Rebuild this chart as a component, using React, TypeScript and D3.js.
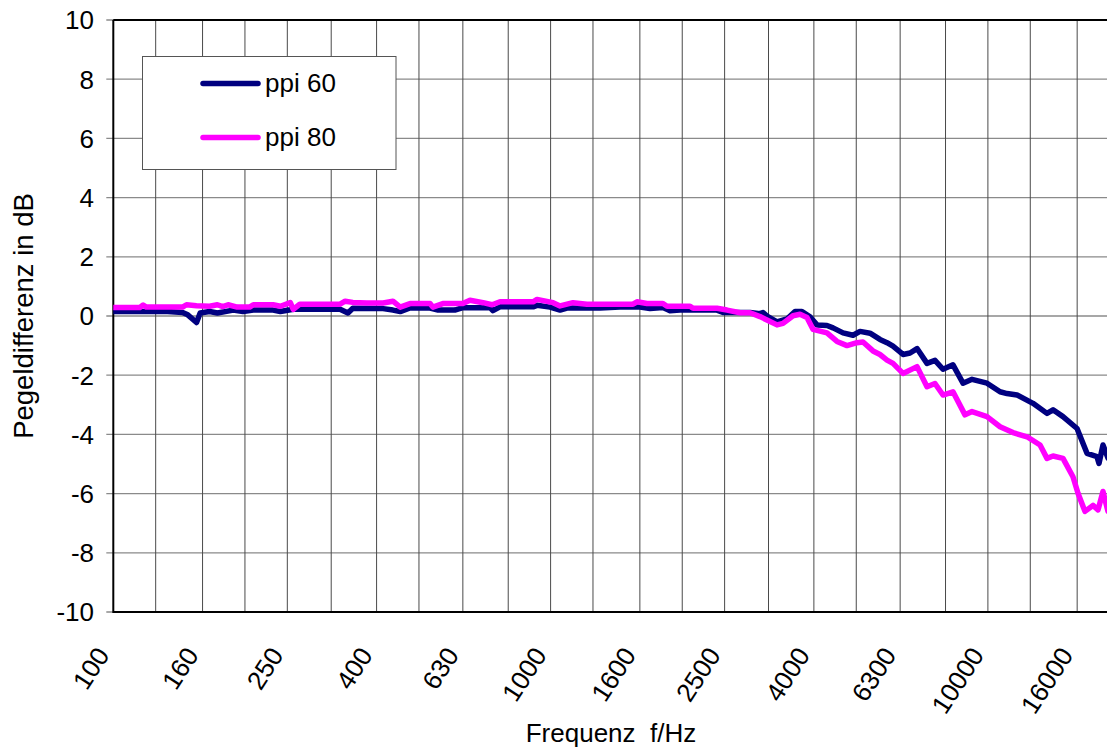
import React, { useEffect, useRef } from "react";
import * as d3 from "d3";

// third-octave gridlines and the labelled bands
const bandFreqs = [125, 160, 200, 250, 315, 400, 500, 630, 800, 1000, 1250, 1600, 2000, 2500, 3150, 4000, 5000, 6300, 8000, 10000, 12500, 16000, 20000];
const labelFreqs = [100, 160, 250, 400, 630, 1000, 1600, 2500, 4000, 6300, 10000, 16000];
const yTicks = [-10, -8, -6, -4, -2, 0, 2, 4, 6, 8, 10];

// ppi 60
const freq60 = [100, 115, 133, 144, 148, 155, 158, 166, 173, 188, 198, 209, 232, 241, 258, 330, 344, 353, 414, 436, 453, 477, 530, 553, 604, 630, 727, 738, 766, 912, 931, 997, 1051, 1090, 1297, 1441, 1601, 1688, 1807, 1875, 1977, 2402, 2479, 2858, 3012, 3060, 3125, 3294, 3472, 3622, 3757, 3919, 4066, 4286, 4424, 4664, 4915, 5100, 5376, 5665, 5879, 6067, 6396, 6637, 6886, 7257, 7568, 7894, 8321, 8772, 9199, 9954, 10660, 11060, 11660, 12680, 13650, 14090, 14850, 15990, 16850, 17760, 17950, 18330, 18820];
const ppi60 = [0.15, 0.15, 0.15, 0.12, 0.04, -0.22, 0.1, 0.15, 0.1, 0.2, 0.15, 0.2, 0.2, 0.15, 0.23, 0.23, 0.1, 0.26, 0.25, 0.2, 0.15, 0.27, 0.27, 0.2, 0.2, 0.28, 0.28, 0.18, 0.31, 0.31, 0.36, 0.3, 0.2, 0.27, 0.27, 0.3, 0.3, 0.25, 0.29, 0.18, 0.2, 0.2, 0.12, 0.12, 0.08, 0.12, 0.0, -0.2, -0.1, 0.15, 0.15, -0.03, -0.3, -0.32, -0.4, -0.57, -0.65, -0.52, -0.58, -0.79, -0.9, -1.02, -1.3, -1.25, -1.1, -1.6, -1.5, -1.8, -1.65, -2.27, -2.14, -2.27, -2.56, -2.62, -2.67, -2.95, -3.29, -3.17, -3.4, -3.8, -4.64, -4.75, -4.98, -4.36, -4.8];

// ppi 80
const freq80 = [100, 115, 117, 119, 144, 147, 155, 166, 173, 178, 183, 192, 205, 209, 232, 241, 254, 258, 267, 330, 339, 353, 380, 414, 436, 453, 477, 530, 538, 567, 630, 654, 701, 735, 766, 912, 931, 1013, 1051, 1125, 1211, 1543, 1576, 1661, 1807, 1846, 2084, 2117, 2402, 2532, 2711, 2858, 3012, 3294, 3400, 3584, 3718, 3857, 3981, 4286, 4518, 4762, 5020, 5181, 5461, 5665, 5879, 6067, 6396, 6886, 7257, 7568, 7894, 8321, 8864, 9199, 9954, 10660, 11410, 12290, 13160, 13650, 14090, 14850, 15650, 16070, 16670, 17390, 17860, 18330, 18820];
const ppi80 = [0.29, 0.29, 0.37, 0.3, 0.3, 0.38, 0.35, 0.33, 0.38, 0.32, 0.38, 0.3, 0.3, 0.38, 0.38, 0.33, 0.45, 0.22, 0.4, 0.4, 0.5, 0.46, 0.44, 0.44, 0.5, 0.3, 0.42, 0.42, 0.3, 0.42, 0.42, 0.53, 0.45, 0.38, 0.48, 0.48, 0.56, 0.45, 0.34, 0.45, 0.4, 0.4, 0.48, 0.42, 0.42, 0.33, 0.33, 0.26, 0.26, 0.2, 0.11, 0.11, -0.02, -0.3, -0.25, 0.01, 0.06, -0.05, -0.45, -0.57, -0.86, -1.0, -0.9, -0.88, -1.18, -1.3, -1.49, -1.6, -1.94, -1.71, -2.39, -2.28, -2.67, -2.56, -3.34, -3.23, -3.4, -3.74, -3.94, -4.08, -4.36, -4.81, -4.73, -4.81, -5.43, -5.99, -6.6, -6.4, -6.55, -5.93, -6.6];

const seriesNames = ["ppi 60", "ppi 80"];
const seriesColors = ["#000080", "#ff00ff"];

const width = 1107;
const height = 749;
const plotLeft = 113.3;
const plotTop = 20;
const plotBottom = 612;
const font = "'Liberation Sans', Arial, sans-serif";

export default function App() {
	const ref = useRef<SVGSVGElement>(null);

	useEffect(() => {
		document.body.style.margin = "0";
		drawChart();
	}, []);

	const drawChart = () => {
		const svg = d3.select(ref.current);
		svg.selectAll("*").remove();

		const x = d3
			.scaleLog()
			.domain([100, 20000])
			.range([plotLeft, plotLeft + 437.3 * Math.log10(200)]);
		const y = d3.scaleLinear().domain([-10, 10]).range([plotBottom, plotTop]);
		const plotRight = x(20000);

		svg.append("rect").attr("width", width).attr("height", height).attr("fill", "#fff");

		// horizontal grid + left ticks
		svg
			.append("g")
			.selectAll("line")
			.data(yTicks)
			.join("line")
			.attr("x1", plotLeft - 7)
			.attr("x2", plotRight)
			.attr("y1", (d) => y(d))
			.attr("y2", (d) => y(d))
			.attr("stroke", "#8a8a8a")
			.attr("stroke-width", 1.3);

		// vertical grid
		svg
			.append("g")
			.selectAll("line")
			.data(bandFreqs)
			.join("line")
			.attr("x1", (d) => x(d))
			.attr("x2", (d) => x(d))
			.attr("y1", plotTop)
			.attr("y2", plotBottom)
			.attr("stroke", "#4a4a4a")
			.attr("stroke-width", 1);

		// frame
		const frame = svg.append("g").attr("stroke", "#000").attr("stroke-width", 2);
		frame.append("line").attr("x1", plotLeft).attr("x2", plotLeft).attr("y1", plotTop).attr("y2", plotBottom + 1);
		frame.append("line").attr("x1", plotLeft).attr("x2", plotRight).attr("y1", plotBottom).attr("y2", plotBottom);
		frame.append("line").attr("x1", plotLeft).attr("x2", plotRight).attr("y1", plotTop).attr("y2", plotTop);

		// y tick labels
		svg
			.append("g")
			.selectAll("text")
			.data(yTicks)
			.join("text")
			.attr("x", 94)
			.attr("y", (d) => y(d))
			.attr("dy", "0.36em")
			.attr("text-anchor", "end")
			.attr("font-family", font)
			.attr("font-size", 26)
			.text((d) => String(d));

		// x tick labels
		svg
			.append("g")
			.selectAll("text")
			.data(labelFreqs)
			.join("text")
			.attr("text-anchor", "end")
			.attr("transform", (d) => `translate(${x(d) - 3},655) rotate(-57)`)
			.attr("font-family", font)
			.attr("font-size", 26)
			.text((d) => String(d));

		// axis titles
		svg
			.append("text")
			.attr("x", 611)
			.attr("y", 742)
			.attr("text-anchor", "middle")
			.attr("font-family", font)
			.attr("font-size", 26)
			.style("white-space", "pre")
			.text("Frequenz  f/Hz");
		svg
			.append("text")
			.attr("transform", `translate(33,${(plotTop + plotBottom) / 2}) rotate(-90)`)
			.attr("text-anchor", "middle")
			.attr("font-family", font)
			.attr("font-size", 27.5)
			.text("Pegeldifferenz in dB");

		// series
		svg
			.append("clipPath")
			.attr("id", "plot-clip")
			.append("rect")
			.attr("x", plotLeft)
			.attr("y", plotTop)
			.attr("width", plotRight - plotLeft)
			.attr("height", plotBottom - plotTop);

		const line = d3
			.line<[number, number]>()
			.x((d) => x(d[0]))
			.y((d) => y(d[1]));

		const series = [
			d3.zip(freq60, ppi60) as [number, number][],
			d3.zip(freq80, ppi80) as [number, number][],
		];

		svg
			.append("g")
			.attr("clip-path", "url(#plot-clip)")
			.selectAll("path")
			.data(series)
			.join("path")
			.attr("d", (d) => line(d))
			.attr("fill", "none")
			.attr("stroke", (d, i) => seriesColors[i])
			.attr("stroke-width", 5.5)
			.attr("stroke-linejoin", "round")
			.attr("stroke-linecap", "round");

		// legend
		const legend = svg.append("g");
		legend
			.append("rect")
			.attr("x", 142.5)
			.attr("y", 56.5)
			.attr("width", 253.5)
			.attr("height", 113)
			.attr("fill", "#fff")
			.attr("stroke", "#555")
			.attr("stroke-width", 1);
		const rows = legend
			.selectAll("g.row")
			.data(seriesNames)
			.join("g")
			.attr("class", "row")
			.attr("transform", (d, i) => `translate(0,${83.5 + i * 54})`);
		rows
			.append("line")
			.attr("x1", 203)
			.attr("x2", 258)
			.attr("stroke", (d, i) => seriesColors[i])
			.attr("stroke-width", 5.5)
			.attr("stroke-linecap", "round");
		rows
			.append("text")
			.attr("x", 265)
			.attr("y", 8.5)
			.attr("font-family", font)
			.attr("font-size", 26)
			.text((d) => d);
	};

	return <svg ref={ref} width={width} height={height} style={{ display: "block" }}></svg>;
}
